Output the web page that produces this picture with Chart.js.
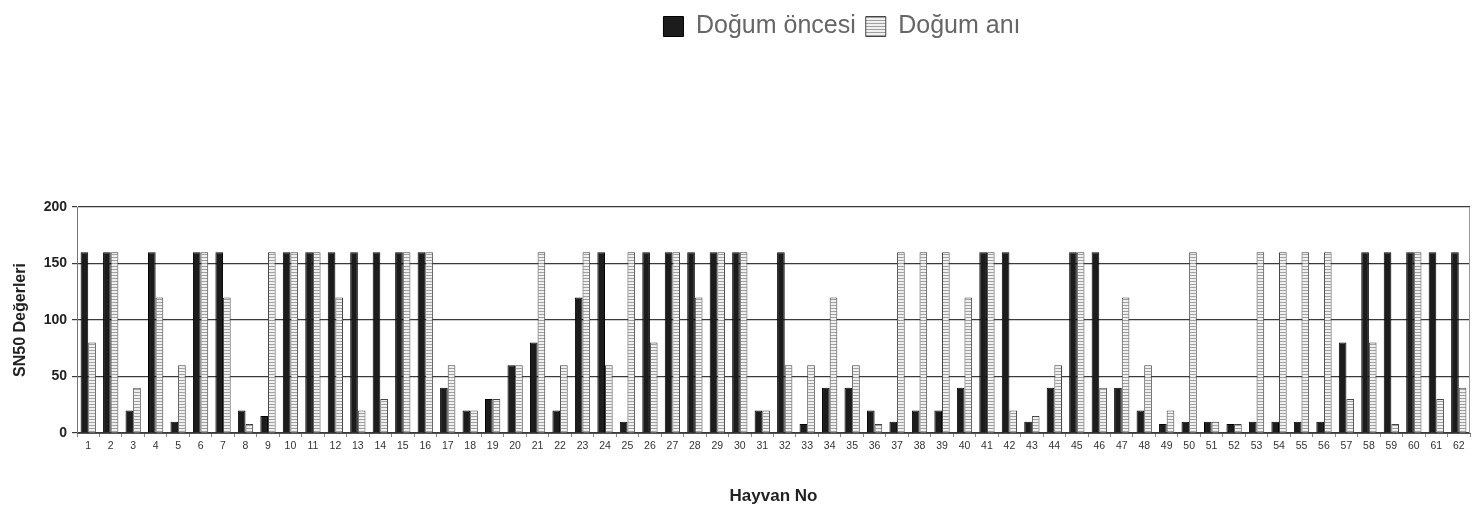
<!doctype html>
<html lang="tr">
<head>
  <meta charset="utf-8">
  <title>SN50 Değerleri</title>
  <style>
    * { margin: 0; padding: 0; }
    body { background: white; }
    .chartBox { position: relative; width: 1472px; height: 510px; }
  </style>
</head>
<body>
<div class="chartBox">
  <canvas id="myChart"></canvas>
</div>

<script src="https://cdn.jsdelivr.net/npm/chart.js"></script>
<script>
  // data
  const hayvanNo = [
    '1','2','3','4','5','6','7','8','9','10','11','12','13','14','15','16',
    '17','18','19','20','21','22','23','24','25','26','27','28','29','30','31',
    '32','33','34','35','36','37','38','39','40','41','42','43','44','45','46',
    '47','48','49','50','51','52','53','54','55','56','57','58','59','60','61','62'
  ];
  const dogumOncesi = [
    160,160,20,160,10,160,160,20,15,160,160,160,160,160,160,160,
    40,20,30,60,80,20,120,160,10,160,160,160,160,160,20,
    160,8,40,40,20,10,20,20,40,160,160,10,40,160,160,
    40,20,8,10,10,8,10,10,10,10,80,160,160,160,160,160
  ];
  const dogumAni = [
    80,160,40,120,60,160,120,8,160,160,160,120,20,30,160,160,
    60,20,30,60,160,60,160,60,160,80,160,120,160,160,20,
    60,60,120,60,8,160,160,160,120,160,20,15,60,160,40,
    120,60,20,160,10,8,160,160,160,160,30,80,8,160,30,40
  ];
  const yTicks = [0, 50, 100, 150, 200];

  // hatched fill for the light bars
  function makePattern() {
    const c = document.createElement('canvas');
    c.width = 4; c.height = 3;
    const g = c.getContext('2d');
    g.fillStyle = '#f0f0f0';
    g.fillRect(0, 0, 4, 3);
    g.fillStyle = '#a0a0a0';
    g.fillRect(0, 2, 4, 1);
    return g.createPattern(c, 'repeat');
  }

  Chart.defaults.font.family = 'Arial, "Liberation Sans", sans-serif';

  // push the legend right/down and leave the empty band under it
  const legendSpace = {
    id: 'legendSpace',
    beforeLayout(chart) {
      const lg = chart.legend;
      if (lg && !lg._patched) {
        const fit = lg.fit;
        lg.fit = function () { fit.call(this); this.height = 207; };
        lg._patched = true;
      }
    },
    afterLayout(chart) {
      if (chart.legend) {
        chart.legend.left += 214;
        chart.legend.top += 4;
      }
    }
  };

  // right edge of the plot frame
  const frame = {
    id: 'frame',
    afterDraw(chart) {
      const {ctx, chartArea: a} = chart;
      ctx.save();
      ctx.strokeStyle = '#999';
      ctx.lineWidth = 1;
      ctx.beginPath();
      ctx.moveTo(a.right - 0.5, a.top);
      ctx.lineTo(a.right - 0.5, a.bottom);
      ctx.stroke();
      ctx.restore();
    }
  };

  const data = {
    labels: hayvanNo,
    datasets: [
      {
        label: 'Doğum öncesi',
        data: dogumOncesi,
        backgroundColor: '#1c1c1c',
        borderColor: '#000',
        borderWidth: 1,
        categoryPercentage: 0.68,
        barPercentage: 1
      },
      {
        label: 'Doğum anı',
        data: dogumAni,
        backgroundColor: makePattern(),
        borderColor: '#444',
        borderWidth: 1,
        categoryPercentage: 0.68,
        barPercentage: 1
      }
    ]
  };

  const config = {
    type: 'bar',
    data,
    plugins: [legendSpace, frame],
    options: {
      responsive: true,
      maintainAspectRatio: false,
      animation: false,
      layout: { padding: { left: 0, right: 2, top: 0, bottom: 0 } },
      scales: {
        x: {
          grid: {
            offset: true,
            drawOnChartArea: false,
            drawTicks: true,
            tickLength: 4,
            color: '#888'
          },
          border: { color: '#555' },
          ticks: {
            color: '#333',
            font: { size: 10.5 },
            maxRotation: 0,
            autoSkip: false,
            padding: 3
          },
          title: {
            display: true,
            text: 'Hayvan No',
            color: '#222',
            font: { size: 17, weight: 'bold' },
            padding: { top: 4, bottom: 3 }
          },
          afterFit(scale) { scale.height = 77; }
        },
        y: {
          min: 0,
          max: 200,
          afterBuildTicks(scale) { scale.ticks = yTicks.map(v => ({ value: v })); },
          grid: {
            color: '#3a3a3a',
            lineWidth: 1.2,
            tickLength: 5
          },
          border: { color: '#777' },
          ticks: {
            color: '#222',
            font: { size: 14, weight: 'bold' },
            padding: 5
          },
          title: {
            display: true,
            text: 'SN50 Değerleri',
            color: '#222',
            font: { size: 16, weight: 'bold' },
            padding: { top: 11, bottom: 0 }
          },
          afterFit(scale) { scale.width = 77; }
        }
      },
      plugins: {
        legend: {
          display: true,
          position: 'top',
          align: 'center',
          labels: {
            color: '#666',
            boxWidth: 20,
            boxHeight: 20,
            padding: 10,
            font: { size: 25 }
          }
        },
        tooltip: { enabled: false }
      }
    }
  };

  const myChart = new Chart(document.getElementById('myChart'), config);
</script>
</body>
</html>
